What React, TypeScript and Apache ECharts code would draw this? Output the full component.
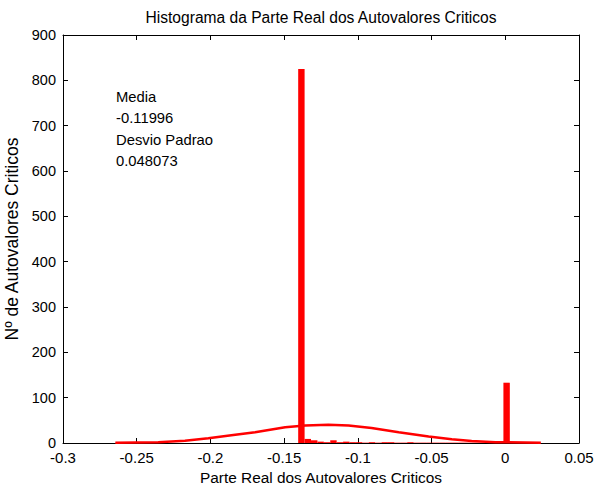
import React, { useEffect, useRef } from "react";
import * as echarts from "echarts";

// Histogram bins (center of first bin, common bin width, counts per bin)
const binFirstCenter = -0.1383;
const binWidth = 0.00435;
const binCounts = [
  825, 9, 6, 3, 1, 6, 1, 3, 1, 1, 0, 1, 0, 1, 1, 0, 0, 1, 0, 0, 0, 0, 0, 0, 0, 0, 0, 0, 0, 0, 0, 0, 133,
];

// Fitted normal curve
const curveX = [
  -0.2645, -0.2354, -0.2173, -0.2014, -0.1858, -0.1697, -0.1493, -0.1357, -0.12, -0.1063, -0.0907,
  -0.0723, -0.052, -0.0363, -0.0228, -0.0067, 0.0241,
];
const curveY = [0.8, 1.5, 5, 10.4, 17, 23.6, 34.6, 38.5, 40, 38.8, 33, 23.8, 14.2, 8.4, 4.4, 1.8, 0.8];

const xTicks = { min: -0.3, max: 0.05, interval: 0.05 };
const yTicks = { min: 0, max: 900, interval: 100 };

const titleText = "Histograma da Parte Real dos Autovalores Criticos";
const xName = "Parte Real dos Autovalores Criticos";
const yName = "Nº de Autovalores Criticos";
const noteLines = ["Media", "-0.11996", "Desvio Padrao", "0.048073"];

const FONT = "'Liberation Sans', Arial, Helvetica, sans-serif";

export default function App() {
  const ref = useRef<HTMLDivElement>(null);
  useEffect(() => {
    if (!ref.current) return;
    document.body.style.margin = "0";
    const chart = echarts.init(ref.current, undefined, { renderer: "svg" });
    const histData = binCounts.map((c, i) => [binFirstCenter + i * binWidth, c]);
    const curveData = curveX.map((x, i) => [x, curveY[i]]);
    const axisLine = { show: true, onZero: false, lineStyle: { color: "#000", width: 1 } };
    const tick = { show: true, inside: true, length: 5, lineStyle: { color: "#000" } };
    const fmt = (v: number) => String(parseFloat(v.toFixed(2)));
    chart.setOption({
      animation: false,
      backgroundColor: "#fff",
      grid: {
        left: 63,
        right: 18,
        top: 35,
        bottom: 46,
        containLabel: false,
        outerBoundsMode: "none",
      },
      xAxis: [
        {
          type: "value",
          ...xTicks,
          axisLine,
          axisTick: tick,
          splitLine: { show: false },
          axisLabel: { color: "#000", fontFamily: FONT, fontSize: 15, margin: 7, formatter: fmt },
          name: xName,
          nameLocation: "middle",
          nameGap: 26,
          nameTextStyle: { color: "#000", fontFamily: FONT, fontSize: 15.4 },
        },
        {
          type: "value",
          position: "top",
          ...xTicks,
          axisLine,
          axisTick: tick,
          splitLine: { show: false },
          axisLabel: { show: false },
        },
      ],
      yAxis: [
        {
          type: "value",
          ...yTicks,
          axisLine,
          axisTick: tick,
          splitLine: { show: false },
          axisLabel: { color: "#000", fontFamily: FONT, fontSize: 14.5, margin: 7 },
          name: yName,
          nameLocation: "middle",
          nameGap: 32,
          nameRotate: 90,
          nameTextStyle: { color: "#000", fontFamily: FONT, fontSize: 17.5 },
        },
        {
          type: "value",
          position: "right",
          ...yTicks,
          axisLine,
          axisTick: tick,
          splitLine: { show: false },
          axisLabel: { show: false },
        },
      ],
      series: [
        {
          type: "custom",
          xAxisIndex: 0,
          yAxisIndex: 0,
          data: histData,
          renderItem: (params: any, api: any) => {
            const c = api.value(0);
            const n = api.value(1);
            const p0 = api.coord([c - binWidth / 2, n]);
            const p1 = api.coord([c + binWidth / 2, 0]);
            const h = Math.max(p1[1] - p0[1], 0.8);
            return {
              type: "rect",
              shape: { x: p0[0], y: p1[1] - h, width: p1[0] - p0[0], height: h },
              style: { fill: n > 0 ? "#ff0000" : "rgba(255,0,0,0.45)" },
            };
          },
          z: 2,
        },
        {
          type: "line",
          xAxisIndex: 0,
          yAxisIndex: 0,
          data: curveData,
          showSymbol: false,
          symbol: "none",
          lineStyle: { color: "#ff0000", width: 2.5 },
          z: 3,
        },
      ],
      graphic: [
        {
          type: "text",
          x: 321,
          y: 17,
          style: {
            text: titleText,
            fontFamily: FONT,
            fontSize: 15.6,
            fill: "#000",
            align: "center",
            verticalAlign: "middle",
          },
        },
        {
          type: "text",
          left: 116,
          top: 86,
          style: {
            text: noteLines.join("\n"),
            fontFamily: FONT,
            fontSize: 14.8,
            lineHeight: 21.5,
            fill: "#000",
          },
        },
      ],
    });
    return () => chart.dispose();
  }, []);
  return <div ref={ref} style={{ width: 597, height: 489 }} />;
}
